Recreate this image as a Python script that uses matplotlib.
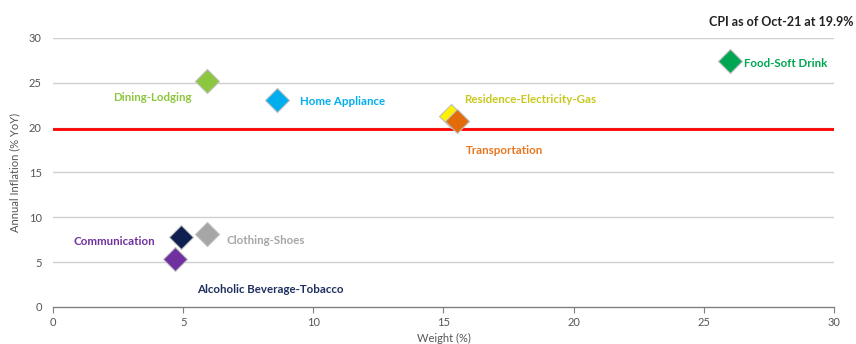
import matplotlib
matplotlib.use("Agg")
import matplotlib.pyplot as plt

plt.rcParams['font.family'] = ['Lato', 'DejaVu Sans']

categories = ["Dining-Lodging", "Home Appliance", "Food-Soft Drink", "Residence-Electricity-Gas",
              "Transportation", "Communication", "Clothing-Shoes", "Alcoholic Beverage-Tobacco"]
weights = [5.9, 8.6, 26.0, 15.3, 15.5, 4.9, 5.9, 4.7]
inflation = [25.2, 23.1, 27.4, 21.3, 20.7, 7.8, 8.1, 5.3]
marker_colors = ["#8DC63F", "#00AEEF", "#00A651", "#FFF200", "#E36C0A", "#0F1F4F", "#A6A6A6", "#7030A0"]
label_colors = ["#8DC63F", "#00AEEF", "#00A651", "#C8C81E", "#E87722", "#7030A0", "#A6A6A6", "#1F2F5F"]
label_pos = [(2.3, 23.4), (9.5, 22.9), (26.55, 27.2), (15.8, 23.1),
             (15.85, 17.4), (0.8, 7.35), (6.65, 7.45), (5.55, 2.0)]
cpi = 19.9
title = "CPI as of Oct-21 at 19.9%"

fig = plt.figure(figsize=(8.56, 3.44), dpi=100)
ax = fig.add_axes([0.0619, 0.1076, 0.9124, 0.782])

ax.set_xlim(0, 30)
ax.set_ylim(0, 30)
ax.set_xticks(range(0, 31, 5))
ax.set_yticks(range(0, 31, 5))
for y in range(5, 31, 5):
    ax.axhline(y, color="#CFCFCF", lw=1.0, zorder=0)
ax.axhline(cpi, color="#FF0000", lw=2.0, zorder=1)

for w, v, c in zip(weights, inflation, marker_colors):
    ax.scatter(w, v, marker="D", s=150, color=c, edgecolors="#C0C0C0", linewidths=0.8, zorder=3)

for (lx, ly), name, c in zip(label_pos, categories, label_colors):
    ax.text(lx, ly, name, color=c, fontsize=8.3, fontweight="bold", ha="left", va="center", zorder=4)

for s in ["top", "right", "left"]:
    ax.spines[s].set_visible(False)
ax.spines["bottom"].set_color("#808080")
ax.spines["bottom"].set_linewidth(1.0)
ax.tick_params(axis="x", colors="#808080", labelcolor="#555555", length=4, labelsize=8)
ax.tick_params(axis="y", length=0, labelcolor="#555555", labelsize=8, pad=8)

ax.set_xlabel("Weight (%)", fontsize=8, color="#555555", labelpad=3)
ax.set_ylabel("Annual Inflation (% YoY)", fontsize=8, color="#555555", labelpad=6)

fig.text(0.997, 0.935, title, ha="right", va="center", fontsize=9, fontweight="bold", color="#222222")

fig.savefig("out.png", dpi=100)
